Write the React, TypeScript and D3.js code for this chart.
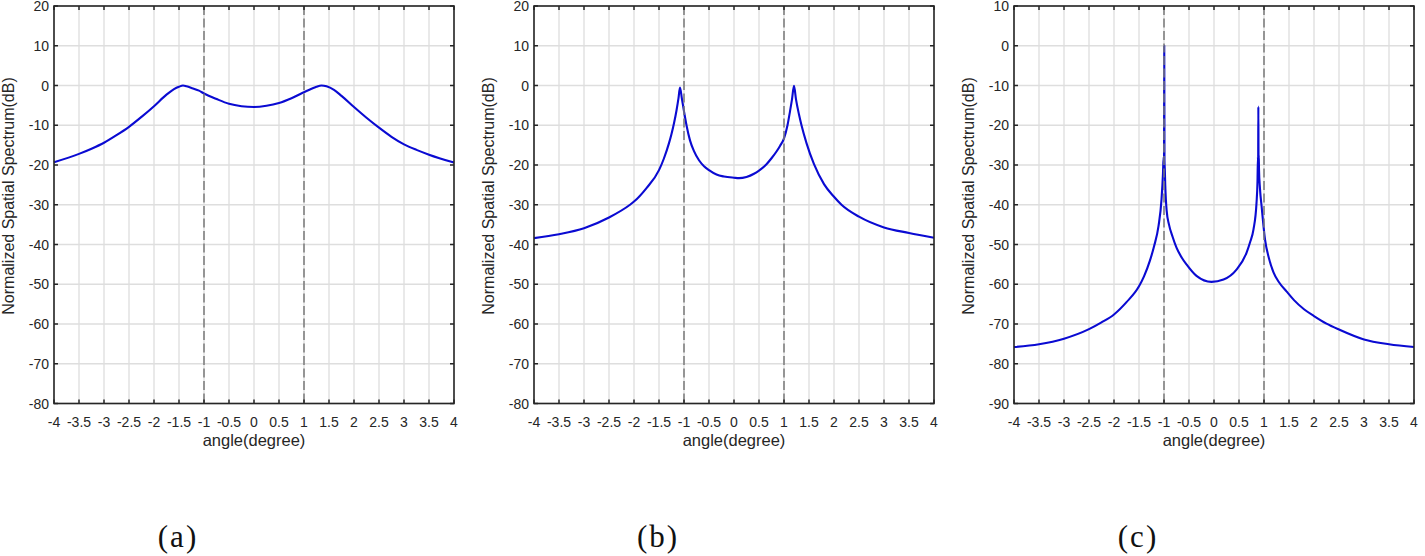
import React from 'react';
import * as d3 from 'd3';

// ---------- tick labels / categories ----------
const xTicks = [-4, -3.5, -3, -2.5, -2, -1.5, -1, -0.5, 0, 0.5, 1, 1.5, 2, 2.5, 3, 3.5, 4];
const yTicksAB = [20, 10, 0, -10, -20, -30, -40, -50, -60, -70, -80];
const yTicksC = [10, 0, -10, -20, -30, -40, -50, -60, -70, -80, -90];
const markerAngles = [-1, 1];
const captions = ['(a)', '(b)', '(c)'];
const xLabel = 'angle(degree)';
const yLabel = 'Normalized Spatial Spectrum(dB)';

// ---------- series (a) ----------
const anglesA = [-4, -3.5, -3.25, -3, -2.75, -2.5, -2.25, -2, -1.75, -1.6, -1.5, -1.42, -1.35, -1.25, -1.1, -1, -0.75, -0.5, -0.25, 0, 0.25, 0.5, 0.75, 1, 1.15, 1.25, 1.35, 1.45, 1.6, 1.75, 2, 2.25, 2.5, 2.75, 3, 3.25, 3.5, 4];
const spectrumA = [-19.3, -17.2, -15.9, -14.4, -12.5, -10.4, -7.9, -5.2, -2.3, -0.9, -0.3, 0, -0.2, -0.6, -1.3, -2.0, -3.4, -4.6, -5.2, -5.4, -5.1, -4.4, -3.2, -1.7, -0.8, -0.3, 0, -0.2, -1.1, -2.6, -5.4, -8.1, -10.6, -12.9, -14.8, -16.2, -17.4, -19.4];

// ---------- series (b) ----------
const anglesB = [-4, -3.5, -3, -2.5, -2.08, -2, -1.75, -1.5, -1.4, -1.3, -1.25, -1.2, -1.15, -1.11, -1.08, -1.04, -1.0, -0.95, -0.88, -0.8, -0.7, -0.6, -0.5, -0.35, -0.2, 0, 0.1, 0.25, 0.4, 0.5, 0.65, 0.75, 0.85, 0.92, 1.0, 1.07, 1.12, 1.16, 1.2, 1.24, 1.3, 1.35, 1.45, 1.6, 1.8, 2.0, 2.15, 2.5, 3, 3.5, 4];
const spectrumB = [-38.4, -37.4, -35.9, -33.2, -30, -29.2, -25.8, -21.3, -18.3, -14.5, -12.2, -9.5, -6.3, -3.2, -0.5, -3.5, -6.5, -10, -13.8, -16.5, -18.8, -20.3, -21.3, -22.4, -22.9, -23.2, -23.3, -23.0, -22.2, -21.4, -19.8, -18.3, -16.6, -15.2, -13.3, -10, -6.5, -3.5, -0.1, -3.5, -7.3, -10, -14.5, -19.8, -24.8, -28, -30, -33, -35.7, -37.1, -38.3];

// ---------- series (c) ----------
const anglesC = [-4, -3.5, -3, -2.5, -2.25, -2, -1.75, -1.5, -1.4, -1.28, -1.2, -1.11, -1.05, -1.02, -1.008, -1.0, -0.995, -0.99, -0.984, -0.975, -0.947, -0.9, -0.83, -0.75, -0.65, -0.55, -0.35, -0.05, 0.19, 0.45, 0.65, 0.72, 0.79, 0.85, 0.87, 0.879, 0.883, 0.887, 0.891, 0.895, 0.9, 0.92, 0.953, 1.02, 1.1, 1.19, 1.3, 1.45, 1.6, 1.8, 2, 2.25, 2.5, 3, 3.5, 4];
const spectrumC = [-75.8, -75.1, -73.7, -71.3, -69.6, -67.6, -64.5, -60.5, -58, -54, -50.5, -45.4, -38.7, -32, -28, -30, 0, -29, -31, -35, -41.5, -45, -48, -50.8, -53.2, -55, -57.9, -59.4, -58.8, -56.3, -52.1, -49.5, -46.2, -39.6, -34, -28, -30, -15.3, -29, -27.5, -31, -36, -40.5, -48.7, -53.5, -57, -59.5, -61.8, -64, -66.3, -68, -69.9, -71.4, -73.9, -75.1, -75.8];

const panelAngles = [anglesA, anglesB, anglesC];
const panelSpectra = [spectrumA, spectrumB, spectrumC];
const panelYTicks = [yTicksAB, yTicksAB, yTicksC];

// ---------- layout ----------
const W = 1425;
const H = 556;
const PLOT_TOP = 6;
const PLOT_BOTTOM = 403.5;
const PLOT_W = 400;
const PANEL_LEFTS = [54, 534, 1014];
const FONT = '"Liberation Sans", Arial, Helvetica, sans-serif';
const AX = '#262626';

function Panel({ left, angles, values, yTicks, caption }: { left: number; angles: number[]; values: number[]; yTicks: number[]; caption: string }) {
  const x = d3.scaleLinear().domain([xTicks[0], xTicks[xTicks.length - 1]]).range([left, left + PLOT_W]);
  const y = d3.scaleLinear().domain([yTicks[yTicks.length - 1], yTicks[0]]).range([PLOT_BOTTOM, PLOT_TOP]);
  const line = d3
    .line<number>()
    .x((_, i) => x(angles[i]))
    .y((d) => y(d))
    .curve(d3.curveMonotoneX);
  const tl = 4;
  const cx = left + PLOT_W / 2;
  return (
    <g>
      {/* grid */}
      {xTicks.map((t) => (
        <line key={'gx' + t} x1={x(t)} x2={x(t)} y1={PLOT_TOP} y2={PLOT_BOTTOM} stroke="#dedede" strokeWidth={1.3} />
      ))}
      {yTicks.map((t) => (
        <line key={'gy' + t} x1={left} x2={left + PLOT_W} y1={y(t)} y2={y(t)} stroke="#dedede" strokeWidth={1.3} />
      ))}
      {/* curve */}
      <path d={line(values) || ''} fill="none" stroke="#0a0ad2" strokeWidth={2.1} strokeLinejoin="round" />
      {/* dashed markers */}
      {markerAngles.map((m) => (
        <line key={'m' + m} x1={x(m)} x2={x(m)} y1={PLOT_TOP} y2={PLOT_BOTTOM} stroke="#7a7a7a" strokeWidth={1.5} strokeDasharray="9,3.5" />
      ))}
      {/* ticks */}
      {xTicks.map((t) => (
        <g key={'tx' + t}>
          <line x1={x(t)} x2={x(t)} y1={PLOT_BOTTOM} y2={PLOT_BOTTOM - tl} stroke={AX} strokeWidth={1.5} />
          <line x1={x(t)} x2={x(t)} y1={PLOT_TOP} y2={PLOT_TOP + tl} stroke={AX} strokeWidth={1.5} />
          <text x={x(t)} y={PLOT_BOTTOM + 23} textAnchor="middle" fontFamily={FONT} fontSize={14} fill={AX}>
            {String(t)}
          </text>
        </g>
      ))}
      {yTicks.map((t) => (
        <g key={'ty' + t}>
          <line x1={left} x2={left + tl} y1={y(t)} y2={y(t)} stroke={AX} strokeWidth={1.5} />
          <line x1={left + PLOT_W} x2={left + PLOT_W - tl} y1={y(t)} y2={y(t)} stroke={AX} strokeWidth={1.5} />
          <text x={left - 5} y={y(t)} dy="0.36em" textAnchor="end" fontFamily={FONT} fontSize={14} fill={AX}>
            {String(t)}
          </text>
        </g>
      ))}
      {/* box */}
      <rect x={left} y={PLOT_TOP} width={PLOT_W} height={PLOT_BOTTOM - PLOT_TOP} fill="none" stroke={AX} strokeWidth={1.6} />
      {/* labels */}
      <text x={cx} y={446} textAnchor="middle" fontFamily={FONT} fontSize={16.5} fill={AX}>
        {xLabel}
      </text>
      <text transform={`translate(${left - 40},196) rotate(-90)`} textAnchor="middle" fontFamily={FONT} fontSize={16} fill={AX}>
        {yLabel}
      </text>
      <text x={cx - 76} y={547} textAnchor="middle" fontFamily='"Liberation Serif", "DejaVu Serif", serif' fontSize={31} letterSpacing={2} fill="#111">
        {caption}
      </text>
    </g>
  );
}

export default function App() {
  return (
    <svg width={W} height={H} style={{ position: 'absolute', left: 0, top: 0, background: '#fff' }}>
      <rect x={0} y={0} width={W} height={H} fill="#fff" />
      {PANEL_LEFTS.map((left, i) => (
        <Panel key={i} left={left} angles={panelAngles[i]} values={panelSpectra[i]} yTicks={panelYTicks[i]} caption={captions[i]} />
      ))}
    </svg>
  );
}
